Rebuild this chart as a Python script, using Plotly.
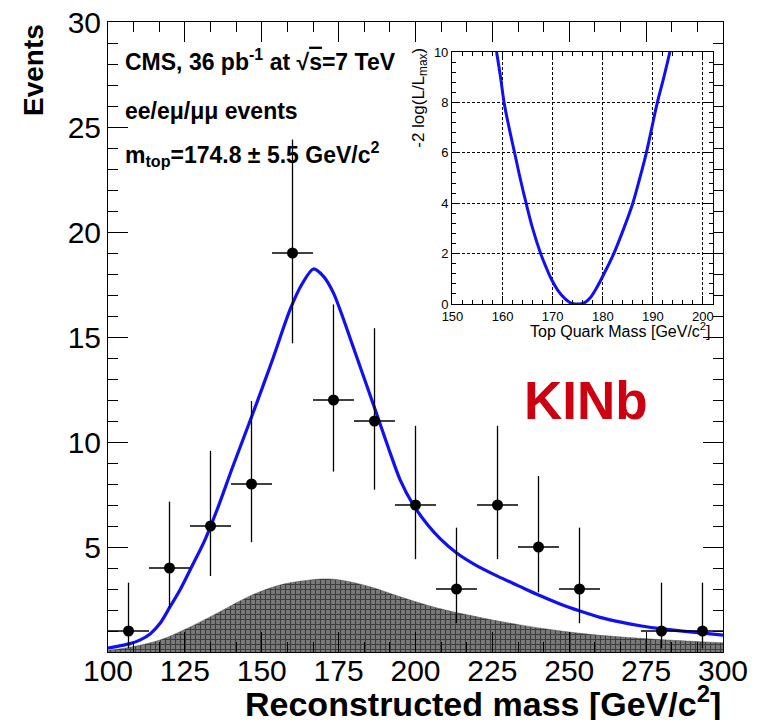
import plotly.graph_objects as go

# ---- data ----
bin_centers = [106.67, 120.0, 133.33, 146.67, 160.0, 173.33, 186.67, 200.0,
               213.33, 226.67, 240.0, 253.33, 280.0, 293.33]
counts = [1, 4, 6, 8, 19, 12, 11, 7, 3, 7, 5, 3, 1, 1]
err_up = [2.30, 3.16, 3.58, 3.95, 5.40, 4.55, 4.42, 3.77, 2.92, 3.77, 3.38, 2.92, 2.30, 2.30]
err_dn = [0.83, 1.91, 2.38, 2.77, 4.30, 3.41, 3.27, 2.58, 1.63, 2.58, 2.16, 1.63, 0.83, 0.83]
half_bin = 6.667

fit_x = [100, 103, 107.2, 110.5, 113.7, 117, 120.2, 123.4, 127.7, 131.5, 135.8,
         140.5, 146.7, 153.7, 159.2, 163.0, 166.8, 170.0, 173.3, 179.8, 186.5, 191.0,
         195.0, 199.3, 204.0, 208.0, 213.5, 220.0, 226.8, 233.5, 240.2, 246.8, 253.5,
         260.0, 266.8, 273.5, 280.2, 286.8, 293.5, 300]
fit_y = [0.18, 0.27, 0.40, 0.58, 0.86, 1.38, 2.16, 2.95, 4.2, 5.33, 6.9,
         8.8, 11.2, 14.0, 16.3, 17.5, 18.24, 17.9, 17.1, 14.5, 11.7, 9.8,
         8.2, 7.0, 6.05, 5.4, 4.7, 4.1, 3.6, 3.15, 2.7, 2.3, 1.95,
         1.65, 1.42, 1.24, 1.1, 0.99, 0.9, 0.8]

bkg_x = [100, 107.2, 116.9, 126.7, 136.4, 146.2, 155.9, 165.7, 170.6, 175.4,
         185.2, 195.0, 204.7, 214.5, 234.0, 253.5, 273.0, 292.5, 300]
bkg_y = [0.08, 0.23, 0.57, 1.19, 1.92, 2.67, 3.19, 3.43, 3.48, 3.43,
         3.11, 2.63, 2.19, 1.84, 1.29, 0.89, 0.65, 0.49, 0.44]

like_x = [158.8, 159.6, 160.3, 161.3, 162.4, 163.5, 164.7, 166.0, 167.6, 168.6, 169.7,
          171.0, 172.5, 173.8, 175.0, 176.2, 177.5, 178.8, 180.5, 182.2, 184.2, 186.0,
          187.4, 188.7, 189.8, 190.9, 192.2, 193.4]
like_y = [10, 9, 8, 7, 6, 5, 4, 3, 2, 1.5, 1.0,
          0.55, 0.2, 0.02, 0.0, 0.03, 0.25, 0.65, 1.3, 2, 3, 4,
          5, 6, 7, 8, 9, 10]

main_xticks = [100, 125, 150, 175, 200, 225, 250, 275, 300]
main_yticks = [0, 5, 10, 15, 20, 25, 30]
main_ylabels = ["", "5", "10", "15", "20", "25", "30"]
inset_xticks = [150, 160, 170, 180, 190, 200]
inset_yticks = [0, 2, 4, 6, 8, 10]

FONT = "Liberation Sans, Arial, Helvetica, sans-serif"

fig = go.Figure()

fig.add_trace(go.Scatter(
    x=bkg_x, y=bkg_y, mode="lines", line=dict(color="rgba(70,70,70,0.9)", width=0.5, shape="spline"),
    fill="tozeroy", fillcolor="#707070",
    fillpattern=dict(shape="+", size=5, solidity=0.4, fgcolor="black", bgcolor="#7a7a7a"),
    hoverinfo="skip", showlegend=False, xaxis="x", yaxis="y"))

fig.add_trace(go.Scatter(
    x=fit_x, y=fit_y, mode="lines",
    line=dict(color="#1010f0", width=3.2, shape="spline", smoothing=0.8),
    showlegend=False, xaxis="x", yaxis="y"))

fig.add_trace(go.Scatter(
    x=bin_centers, y=counts, mode="markers",
    marker=dict(color="black", size=11),
    error_y=dict(type="data", symmetric=False, array=err_up, arrayminus=err_dn,
                 color="black", thickness=1.3, width=0),
    error_x=dict(type="constant", value=half_bin, color="black", thickness=1.3, width=0),
    showlegend=False, xaxis="x", yaxis="y"))

fig.add_trace(go.Scatter(
    x=like_x, y=like_y, mode="lines",
    line=dict(color="#1010f0", width=3, shape="spline", smoothing=1.0),
    showlegend=False, xaxis="x2", yaxis="y2"))

axis_common = dict(showline=True, linecolor="black", linewidth=1, mirror="ticks",
                   ticks="inside", tickcolor="black", tickwidth=1, showgrid=False,
                   zeroline=False, automargin=False, ticklabeloverflow="allow")

# the page body has an 8px margin, so the figure is offset by 8px in the screenshot
fig.update_layout(
    width=750, height=712,
    margin=dict(l=100, r=35, t=14, b=68, autoexpand=False),
    paper_bgcolor="white", plot_bgcolor="white",
    font=dict(family=FONT, color="black"),
    xaxis=dict(range=[100, 300], tickvals=main_xticks, ticklen=20, ticklabelstandoff=-8,
               tickfont=dict(size=30, family=FONT, color="black"),
               minor=dict(tickmode="linear", tick0=100, dtick=25 / 3, ticklen=10,
                          ticks="inside", tickcolor="black", tickwidth=1),
               **axis_common),
    yaxis=dict(range=[0, 30], tickvals=main_yticks, ticktext=main_ylabels, ticklen=20,
               tickfont=dict(size=30, family=FONT, color="black"),
               minor=dict(tickmode="linear", tick0=0, dtick=1, ticklen=10,
                          ticks="inside", tickcolor="black", tickwidth=1),
               **axis_common),
    xaxis2=dict(domain=[0.5593, 0.9837], anchor="y2", range=[149.9, 202],
                tickvals=inset_xticks, ticklen=8, automargin=False,
                tickfont=dict(size=13, family=FONT, color="black"),
                minor=dict(tickmode="linear", tick0=150, dtick=2, ticklen=4,
                           ticks="inside", tickcolor="black"),
                showline=True, linecolor="black", linewidth=1, mirror="ticks",
                ticks="inside", tickcolor="black", zeroline=False,
                showgrid=True, gridcolor="black", gridwidth=1, griddash="3px,2px"),
    yaxis2=dict(domain=[0.5524, 0.9524], anchor="x2", range=[0, 10],
                tickvals=inset_yticks, ticklen=8, automargin=False,
                tickfont=dict(size=13, family=FONT, color="black"),
                minor=dict(tickmode="linear", tick0=0, dtick=0.4, ticklen=4,
                           ticks="inside", tickcolor="black"),
                showline=True, linecolor="black", linewidth=1, mirror="ticks",
                ticks="inside", tickcolor="black", zeroline=False,
                showgrid=True, gridcolor="black", gridwidth=1, griddash="3px,2px"),
)

ann = []
ann.append(dict(text="<b>Events</b>", x=-0.122, y=1.0, xref="paper", yref="paper",
                xanchor="center", yanchor="top", textangle=-90, showarrow=False,
                font=dict(size=28, family=FONT, color="black")))
ann.append(dict(text="<b>Reconstructed mass [GeV/c<sup>2</sup>]</b>", x=1.0, y=-0.078,
                xref="paper", yref="paper", xanchor="right", yanchor="middle",
                showarrow=False, font=dict(size=34, family=FONT, color="black")))
ann.append(dict(text="<b>CMS, 36 pb<sup>-1</sup> at √<span style='text-decoration:overline'>s</span>=7 TeV</b>",
                x=0.0244, y=0.939, xref="paper", yref="paper", xanchor="left", yanchor="middle",
                showarrow=False, font=dict(size=23, family=FONT, color="black")))
ann.append(dict(text="<b>ee/eμ/μμ events</b>", x=0.0244, y=0.8587, xref="paper", yref="paper",
                xanchor="left", yanchor="middle", showarrow=False,
                font=dict(size=23, family=FONT, color="black")))
ann.append(dict(text="<b>m<sub>top</sub>=174.8 ± 5.5 GeV/c<sup>2</sup></b>", x=0.0244, y=0.790,
                xref="paper", yref="paper", xanchor="left", yanchor="middle", showarrow=False,
                font=dict(size=23, family=FONT, color="black")))
ann.append(dict(text="<b>KINb</b>", x=0.777, y=0.40, xref="paper", yref="paper",
                xanchor="center", yanchor="middle", showarrow=False,
                font=dict(size=53, family=FONT, color="#cc0010")))
ann.append(dict(text="-2 log(L/L<sub>max</sub>)", x=0.507, y=0.962, xref="paper", yref="paper",
                xanchor="center", yanchor="top", textangle=-90, showarrow=False,
                font=dict(size=17, family=FONT, color="black")))
ann.append(dict(text="Top Quark Mass [GeV/c<sup>2</sup>]", x=0.9837, y=0.511,
                xref="paper", yref="paper", xanchor="right", yanchor="middle",
                showarrow=False, font=dict(size=16, family=FONT, color="black")))
fig.update_layout(annotations=ann)

fig.write_html("out.html")
